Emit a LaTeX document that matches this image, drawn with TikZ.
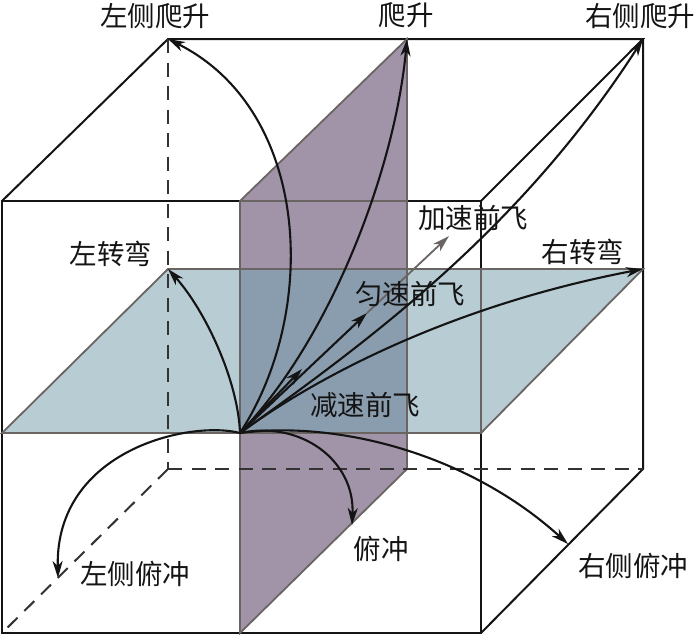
\documentclass[tikz,border=0pt]{standalone}
\usepackage{fontspec}
\setmainfont{Noto Sans CJK SC}
\usetikzlibrary{arrows.meta}
\definecolor{planeblue}{HTML}{B8CCD4}
\definecolor{planepurple}{HTML}{A294A8}
\definecolor{planeboth}{HTML}{8A9DAE}
\definecolor{planeedge}{HTML}{6A6462}
\definecolor{ink}{HTML}{141414}
\definecolor{hiddenink}{HTML}{333333}
\tikzset{
  edge/.style={draw=ink,line width=2pt},
  hidden/.style={draw=hiddenink,line width=2pt,dash pattern=on 14pt off 9.5pt},
  planeline/.style={draw=planeedge,line width=1.8pt},
  headtip/.style={-{Stealth[length=17pt,width=10pt,inset=5pt]}},
  flight/.style={draw=ink,line width=2.1pt,headtip},
  lab/.style={font=\fontsize{27.5}{30}\selectfont,text=ink,inner sep=0pt}
}
\begin{document}
\begin{tikzpicture}[x=1pt,y=-1pt]
\useasboundingbox (0,0) rectangle (700,635);
% cube corners
\coordinate (ftl) at (2,201);
\coordinate (ftr) at (481,201);
\coordinate (fbl) at (2,633);
\coordinate (fbr) at (481,633);
\coordinate (btl) at (168,39);
\coordinate (btr) at (643,39);
\coordinate (bbl) at (168,469);
\coordinate (bbr) at (643,469);
% plane corners
\coordinate (hfl) at (2,433);
\coordinate (hfr) at (481,433);
\coordinate (hbl) at (168,269);
\coordinate (hbr) at (643,269);
\coordinate (vft) at (240,201);
\coordinate (vfb) at (240,633);
\coordinate (vbt) at (407,39);
\coordinate (vbb) at (407,469);
\coordinate (O) at (240,433);
% planes
\fill[planepurple] (vft) -- (vbt) -- (vbb) -- (vfb) -- cycle;
\fill[planeblue] (hfl) -- (hfr) -- (hbr) -- (hbl) -- cycle;
\fill[planeboth] (240,269) rectangle (407,433);
% cube edges
\draw[edge] (ftl) -- (ftr) -- (fbr) -- (fbl) -- cycle;
\draw[edge] (ftl) -- (btl) -- (btr) -- (ftr);
\draw[edge] (btr) -- (bbr) -- (fbr);
% plane outlines
\draw[planeline] (hfl) -- (hfr) -- (hbr) -- (hbl) -- cycle;
\draw[planeline] (vft) -- (vbt) -- (vbb) -- (vfb) -- cycle;
\draw[planeline] (vft) -- (407,201);
\draw[planeline] (hfr) -- (481,269);
% hidden edges, on top of the planes
\draw[hidden] (btl) -- (bbl);
\draw[hidden] (bbl) -- (bbr);
\draw[hidden] (bbl) -- (fbl);
% flight paths
\coordinate (slow) at (302,369);
\coordinate (even) at (367,313);
\coordinate (fast) at (449,236);
\coordinate (dl) at (58,578);
\coordinate (dd) at (352,525);
\coordinate (dr) at (568,544);
\draw[draw=planeedge,line width=1.8pt,headtip] (even) -- (fast);
\draw[flight] (O) -- (even);
\draw[flight] (O) -- (slow);
\draw[flight] (O) .. controls (238,380) and (205,310) .. (hbl);
\draw[flight] (O) .. controls (320,310) and (310,110) .. (btl);
\draw[flight] (O) .. controls (330,340) and (395,170) .. (vbt);
\draw[flight] (O) .. controls (370,340) and (520,230) .. (btr);
\draw[flight] (O) .. controls (340,360) and (480,300) .. (hbr);
\draw[flight] (O) .. controls (190,420) and (55,450) .. (dl);
\draw[flight] (O) .. controls (300,420) and (355,460) .. (dd);
\draw[flight] (O) .. controls (340,420) and (470,455) .. (dr);
% labels
\node[lab] (l1) at (155,16) {左侧爬升};
\node[lab] (l2) at (406,15) {爬升};
\node[lab] (l3) at (640,16) {右侧爬升};
\node[lab] (l4) at (473,218) {加速前飞};
\node[lab] (l5) at (583,252) {右转弯};
\node[lab] (l6) at (111,254) {左转弯};
\node[lab] (l7) at (410,294) {匀速前飞};
\node[lab] (l8) at (365,405) {减速前飞};
\node[lab] (l9) at (135,574) {左侧俯冲};
\node[lab] (l10) at (381,549) {俯冲};
\node[lab] (l11) at (633,566) {右侧俯冲};
\end{tikzpicture}
\end{document}
